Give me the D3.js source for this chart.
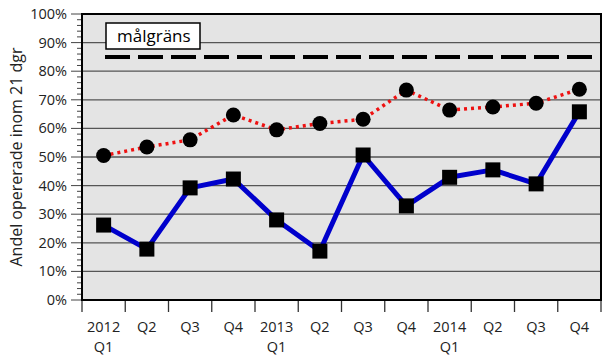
<!DOCTYPE html>
<html><head><meta charset="utf-8">
<script src="https://cdn.jsdelivr.net/npm/d3@7"></script>
<style>body{margin:0;background:#fff;}svg{display:block;font-family:"Open Sans",sans-serif;}</style>
</head><body>
<svg id="c" width="606" height="360"></svg>
<script>
const years = ["2012","","","","2013","","","","2014","","",""];
const quarters = ["Q1","Q2","Q3","Q4","Q1","Q2","Q3","Q4","Q1","Q2","Q3","Q4"];
const circleSeries = [50.5,53.5,56,64.7,59.5,61.7,63.2,73.4,66.4,67.5,68.8,73.7];
const squareSeries = [26.2,17.8,39.2,42.3,28,17.1,50.7,32.9,42.9,45.5,40.6,65.8];
const target = 85;
const targetLabel = "målgräns";
const yTicks = [0,10,20,30,40,50,60,70,80,90,100];
const yTitle = "Andel opererade inom 21 dgr";

const svg = d3.select("#c");
const L=82, R=601, T=14, B=300;
const x = d3.scaleBand().domain(d3.range(12)).range([L,R]).padding(0);
const y = d3.scaleLinear().domain([0,100]).range([B,T]);
const cx = i => x(i)+x.bandwidth()/2;

svg.append("rect").attr("x",L).attr("y",T).attr("width",R-L).attr("height",B-T).attr("fill","#e4e4e4");
svg.append("g").selectAll("line").data(yTicks.slice(1,-1)).join("line")
  .attr("x1",L).attr("x2",R).attr("y1",d=>y(d)).attr("y2",d=>y(d))
  .attr("stroke","#555").attr("stroke-width",1.3);
svg.append("g").selectAll("line").data(d3.range(0,101,2)).join("line")
  .attr("x1",d=>d%10===0?71:77).attr("x2",L).attr("y1",d=>y(d)).attr("y2",d=>y(d))
  .attr("stroke","#444").attr("stroke-width",1);
svg.append("g").selectAll("text").data(yTicks).join("text")
  .attr("x",67).attr("y",d=>y(d)+5).attr("text-anchor","end")
  .attr("font-size",14.5).attr("fill","#222").text(d=>d+"%");
svg.append("g").selectAll("line").data(d3.range(13)).join("line")
  .attr("x1",d=>L+d*x.bandwidth()).attr("x2",d=>L+d*x.bandwidth())
  .attr("y1",B).attr("y2",312).attr("stroke","#333").attr("stroke-width",1.3);
svg.append("g").selectAll("text").data(d3.range(12)).join("text")
  .attr("x",cx).attr("y",332).attr("text-anchor","middle").attr("font-size",14.5).attr("fill","#222")
  .text(i=>years[i]||quarters[i]);
svg.append("g").selectAll("text").data(d3.range(12).filter(i=>years[i])).join("text")
  .attr("x",cx).attr("y",352).attr("text-anchor","middle").attr("font-size",14.5).attr("fill","#222")
  .text(i=>quarters[i]);
svg.append("text").attr("transform",`translate(22,${(T+B)/2}) rotate(-90)`)
  .attr("text-anchor","middle").attr("font-size",16).attr("fill","#222").text(yTitle);
svg.append("line").attr("x1",105).attr("x2",R-4).attr("y1",y(target)).attr("y2",y(target))
  .attr("stroke","#000").attr("stroke-width",4).attr("stroke-dasharray","25,8");
svg.append("rect").attr("x",106).attr("y",23).attr("width",94).attr("height",26)
  .attr("fill","#fff").attr("stroke","#000").attr("stroke-width",1.5);
svg.append("text").attr("x",117).attr("y",42).attr("font-size",17).attr("fill","#000").text(targetLabel);
const line = d3.line().x((d,i)=>cx(i)).y(d=>y(d));
svg.append("path").datum(circleSeries).attr("d",line).attr("fill","none")
  .attr("stroke","#ee1111").attr("stroke-width",3.5).attr("stroke-dasharray","3,4");
svg.append("path").datum(squareSeries).attr("d",line).attr("fill","none")
  .attr("stroke","#0000cc").attr("stroke-width",5).attr("stroke-linejoin","round");
svg.append("g").selectAll("circle").data(circleSeries).join("circle")
  .attr("cx",(d,i)=>cx(i)).attr("cy",d=>y(d)).attr("r",7.5).attr("fill","#000");
svg.append("g").selectAll("rect").data(squareSeries).join("rect")
  .attr("x",(d,i)=>cx(i)-7.5).attr("y",d=>y(d)-7.5).attr("width",15).attr("height",15).attr("fill","#000");
svg.append("rect").attr("x",L).attr("y",T).attr("width",R-L).attr("height",B-T)
  .attr("fill","none").attr("stroke","#000").attr("stroke-width",2);
</script>
</body></html>
